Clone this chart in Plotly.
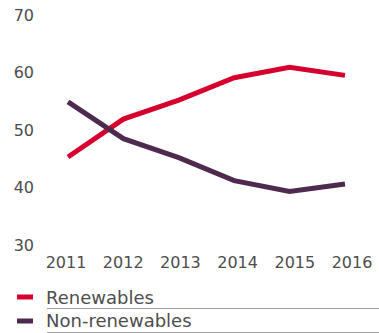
import plotly.graph_objects as go

years = [2011, 2012, 2013, 2014, 2015, 2016]
year_labels = ["2011", "2012", "2013", "2014", "2015", "2016"]
renewables = [45.3, 51.9, 55.2, 59.1, 60.9, 59.5]
non_renewables = [54.9, 48.5, 45.2, 41.2, 39.3, 40.6]
y_ticks = [30, 40, 50, 60, 70]
series_names = ["Renewables", "Non-renewables"]

RED = "#D6002F"
PURPLE = "#4E2A4E"
TEXT = "#4d4d4d"
FONT = "DejaVu Sans"

W, H = 379, 333
L, R, T, B = 38, 0, 15, 88
PW, PH = W - L - R, H - T - B

def px(x):
    return (x - L) / PW

def py(y):
    return (H - B - y) / PH

fig = go.Figure()
fig.add_trace(go.Scatter(x=years, y=renewables, mode="lines", name=series_names[0],
                         line=dict(color=RED, width=5), showlegend=False))
fig.add_trace(go.Scatter(x=years, y=non_renewables, mode="lines", name=series_names[1],
                         line=dict(color=PURPLE, width=5), showlegend=False))
# invisible trace binding the labelled year axis
fig.add_trace(go.Scatter(x=years, y=renewables, xaxis="x2", mode="lines",
                         line=dict(width=0), opacity=0, showlegend=False, hoverinfo="skip"))

shapes = []
annotations = []
legend_rows = [(297, RED, series_names[0], 308.5), (321, PURPLE, series_names[1], 332.5)]
for yc, col, name, ydiv in legend_rows:
    shapes.append(dict(type="line", xref="paper", yref="paper",
                       x0=px(17), x1=px(33), y0=py(yc), y1=py(yc),
                       line=dict(color=col, width=5)))
    shapes.append(dict(type="line", xref="paper", yref="paper",
                       x0=px(47), x1=px(379), y0=py(ydiv), y1=py(ydiv),
                       line=dict(color="#a0a0a0", width=1)))
    annotations.append(dict(text=name, xref="paper", yref="paper",
                            x=px(44), y=py(yc), xanchor="left", yanchor="middle",
                            showarrow=False, font=dict(family=FONT, size=18, color=TEXT)))

fig.update_layout(
    width=W, height=H,
    margin=dict(l=L, r=R, t=T, b=B),
    paper_bgcolor="white", plot_bgcolor="white",
    showlegend=False,
    xaxis=dict(range=[2010.4585, 2016.614], visible=False),
    xaxis2=dict(range=[2010.51, 2016.472], overlaying="x", anchor="y", side="bottom",
                tickvals=years, ticktext=year_labels, showgrid=False, zeroline=False,
                showline=False, ticks="", ticklabelstandoff=6,
                tickfont=dict(family=FONT, size=16, color=TEXT)),
    yaxis=dict(range=[30, 70], tickvals=y_ticks, showgrid=False, zeroline=False,
               showline=False, ticks="", ticklabelstandoff=3,
               tickfont=dict(family=FONT, size=16, color=TEXT)),
    shapes=shapes, annotations=annotations,
)

fig.write_html("out.html", config={"displayModeBar": False},
               post_script="document.body.style.margin='0';document.body.style.overflow='hidden';")
